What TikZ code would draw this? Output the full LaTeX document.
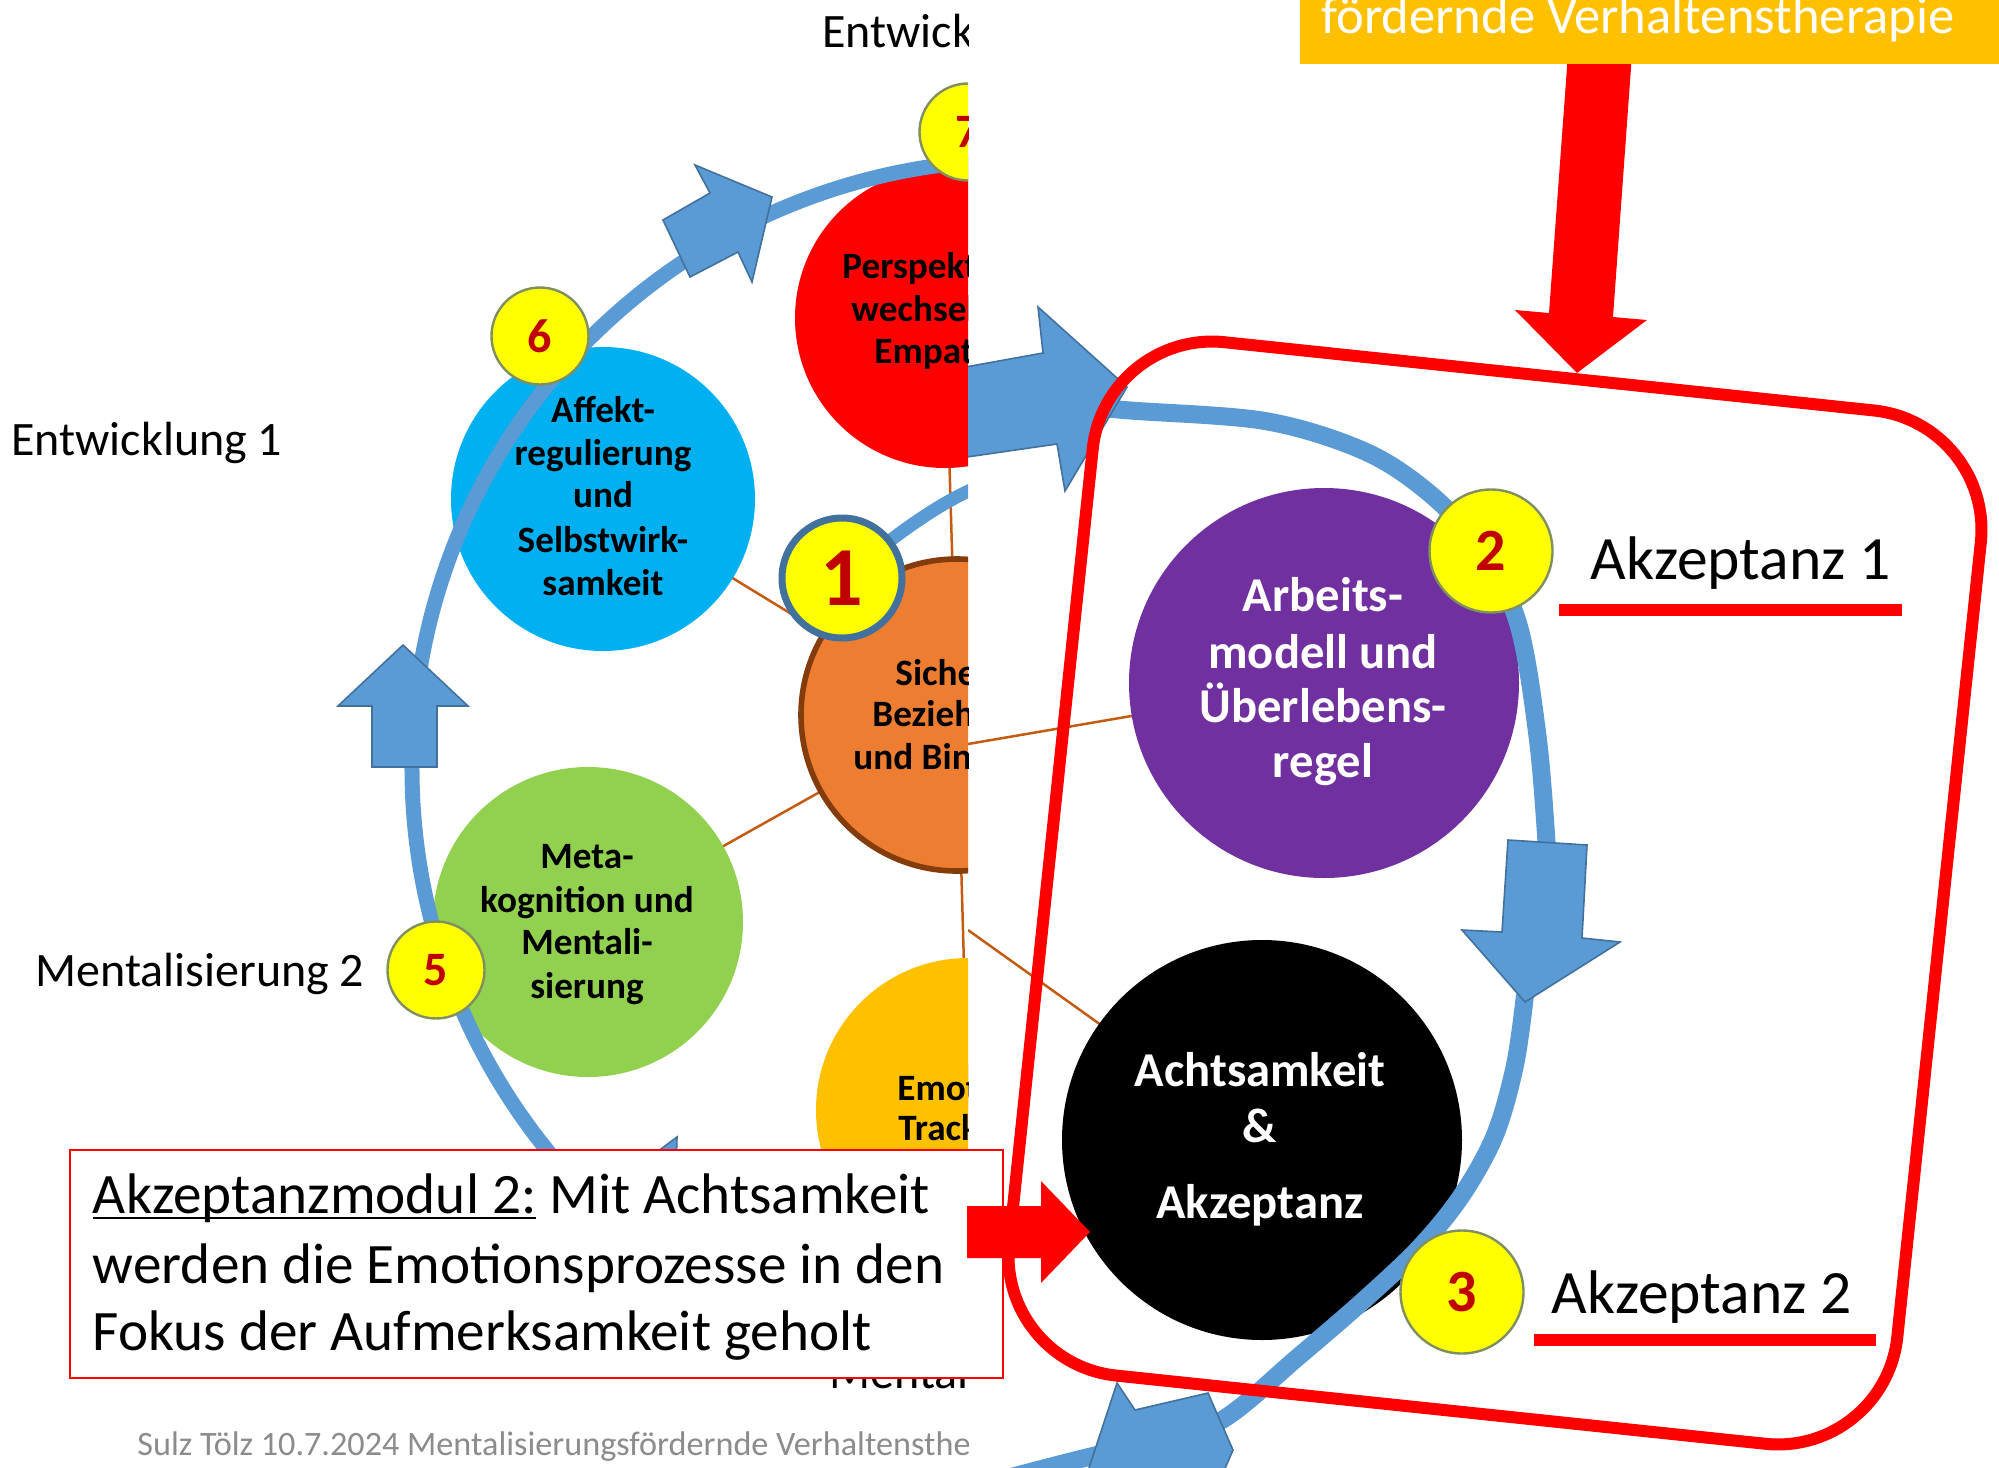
\documentclass[tikz,border=0pt]{standalone}
\usepackage{fontspec}
\setmainfont{Carlito}
\usetikzlibrary{calc}

\definecolor{arcblue}{HTML}{5B9BD5}
\definecolor{arcedge}{HTML}{41719C}
\definecolor{badgeyel}{HTML}{FFFF00}
\definecolor{digitred}{HTML}{C00000}
\definecolor{badgeedge}{HTML}{7F8F5F}
\definecolor{cyanfill}{HTML}{00B0F0}
\definecolor{greenfill}{HTML}{92D050}
\definecolor{orangefill}{HTML}{ED7D31}
\definecolor{orangeedge}{HTML}{843C0C}
\definecolor{goldfill}{HTML}{FFC000}
\definecolor{purplefill}{HTML}{7030A0}
\definecolor{linkbrown}{HTML}{C55A11}
\definecolor{footgray}{HTML}{8C8C8C}

% underline that sits just below the baseline
\newcommand\lowul[1]{\setbox0\hbox{#1}\rlap{\rule[-2.9pt]{\wd0}{1.25pt}}\box0\relax}

\tikzset{
  txt/.style={inner sep=0pt, anchor=base},
  lbl/.style={txt, anchor=base west, font=\fontsize{24}{28}\selectfont},
  circtxt/.style={txt, font=\bfseries\fontsize{18.6}{21}\selectfont},
  circtxtw/.style={circtxt, anchor=base west},
  bigtxt/.style={txt, font=\bfseries\fontsize{24.3}{28}\selectfont, text=white},
  disc/.style={circle, inner sep=0pt},
  badge/.style={circle, inner sep=0pt, fill=badgeyel, draw=badgeedge, line width=1.2pt,
    text=digitred, font=\bfseries\fontsize{24}{24}\selectfont},
  link/.style={draw=linkbrown, line width=1.25pt},
  cyc/.style={draw=arcblue, line width=7.5pt},
  blockarrow/.style={fill=arcblue, draw=arcedge, line width=0.8pt, line join=miter},
  redarrow/.style={fill=red},
  captxt/.style={txt, anchor=base west, font=\fontsize{28.6}{34}\selectfont},
}

\begin{document}
\begin{tikzpicture}[x=0.5pt, y=-0.5pt]
\clip (0,0) rectangle (1999,1468);
\fill[white] (0,0) rectangle (1999,1468);

% ---------------- left panel: development cycle ----------------
\begin{scope}
\clip (0,0) rectangle (968,1468);
\coordinate (c-persp) at (945,318);
\coordinate (c-aff) at (603,499);
\coordinate (c-meta) at (588,922);
\coordinate (c-emo) at (968,1110);
\coordinate (c-bind) at (957,715);

\draw[link] (c-bind) -- (c-persp);
\draw[link] (c-bind) -- (c-aff);
\draw[link] (c-bind) -- (c-meta);
\draw[link] (c-bind) -- (c-emo);

\node[disc, fill=red, minimum size=150pt] (persp) at (c-persp) {};
\node[disc, fill=cyanfill, minimum size=152pt] (aff) at (c-aff) {};
\node[disc, fill=greenfill, minimum size=155pt] (meta) at (c-meta) {};
\node[disc, fill=goldfill, minimum size=152pt] (emo) at (c-emo) {};
\node[disc, fill=orangefill, draw=orangeedge, line width=2.8pt, minimum size=156pt] (bind) at (c-bind) {};

% outer cycle and the spoke leaving badge 1
\draw[cyc] (1020,768) ++(140:608) arc[start angle=140, end angle=276, radius=608];
\coordinate (c-b1) at (842,578);
\draw[cyc, line width=6.5pt] (c-b1) .. controls (890,540) and (930,508) .. (975,488);

% block arrows on the cycle
\draw[blockarrow] (663,220) -- (710,193) -- (695,165) -- (772,197) -- (752,282) -- (738,252) -- (690,277) -- cycle;
\draw[blockarrow] (403,645) -- (468,706) -- (437,706) -- (437,767) -- (372,767) -- (372,706) -- (338,706) -- cycle;
\draw[blockarrow] (630,1172) -- (677,1137) -- (676,1172) -- cycle;

% numbered badges
\node[badge, minimum size=48.5pt] (b7) at (968,132) {7};
\node[badge, minimum size=48.5pt] (b6) at (540,336) {6};
\node[badge, minimum size=48.5pt] (b5) at (436,970) {5};
\node[badge, draw=arcedge, line width=3.5pt, minimum size=60pt,
      font=\bfseries\fontsize{42}{42}\selectfont] (b1) at (c-b1) {1};

% circle captions
\node[circtxtw] (p1) at (842,278) {Perspektiv-};
\node[circtxtw] (p2) at (851,321) {wechsel};
\node[circtxtw] (p3) at (874,363) {Empathie};

\node[circtxt] (a1) at (603,422) {Affekt-};
\node[circtxt] (a2) at (603,465) {regulierung};
\node[circtxt] (a3) at (603,507) {und};
\node[circtxt] (a4) at (603,552) {Selbstwirk-};
\node[circtxt] (a5) at (603,595) {samkeit};

\node[circtxtw] (s1) at (895,685) {Sichere};
\node[circtxtw] (s2) at (872,726) {Beziehung};
\node[circtxtw] (s3) at (853,769) {und Bindung};

\node[circtxt] (m1) at (587,868) {Meta-};
\node[circtxt] (m2) at (587,912) {kognition und};
\node[circtxt] (m3) at (587,954) {Mentali-};
\node[circtxt] (m4) at (587,998) {sierung};

\node[circtxtw] (e1) at (897,1100) {Emotion};
\node[circtxtw] (e2) at (898,1140) {Tracking};

% stage labels
\node[lbl] (ent7) at (822,47) {Entwicklung};
\node[lbl] (ent1) at (11,455) {Entwicklung 1};
\node[lbl] (men2) at (35,986) {Mentalisierung 2};
\node[lbl] (men1) at (829,1388) {Mentalisierung};

\node[txt, anchor=base west, text=footgray, font=\fontsize{17.1}{20}\selectfont] (foot)
  at (137,1455) {Sulz Tölz 10.7.2024 Mentalisierungsfördernde Verhaltenstherapie};
\end{scope}

% ---------------- right panel: acceptance modules ----------------
\begin{scope}
\clip (968,0) rectangle (1999,1468);
\coordinate (c-arb) at (1324,683);
\coordinate (c-acht) at (1262,1140);
\coordinate (lk1) at (968,744);
\coordinate (lk2) at (968,930);
\draw[link] (lk1) -- (c-arb);
\draw[link] (lk2) -- (c-acht);

\node[disc, fill=purplefill, minimum size=195pt] (arb) at (c-arb) {};
\node[disc, fill=black, minimum size=200pt] (acht) at (c-acht) {};

\draw[cyc, line width=9pt] plot[smooth, tension=0.55] coordinates
  {(1050,402) (1124,410) (1265,421) (1364,451) (1429,493) (1480,548) (1518,623) (1538,740) (1547,850)};
\draw[cyc, line width=9pt] plot[smooth, tension=0.55] coordinates
  {(1525,995) (1515,1065) (1495,1135) (1462,1195) (1420,1247) (1364,1300) (1298,1357) (1222,1420) (1150,1445) (1097,1455) (1000,1480) (960,1492)};

\draw[blockarrow] (960,368) -- (1043,353) -- (1038,307) -- (1127,387) -- (1065,491) -- (1057,444) -- (960,458) -- cycle;
\draw[blockarrow] (1508,840) -- (1587,845) -- (1582,938) -- (1620,942) -- (1525,1002) -- (1462,930) -- (1502,932) -- cycle;
\draw[blockarrow] (1208,1393) -- (1135,1410) -- (1117,1383) -- (1085,1480) -- (1220,1480) -- (1233,1450) -- cycle;

\node[badge, minimum size=61.5pt, font=\bfseries\fontsize{30}{30}\selectfont] (b2) at (1491,551) {2};
\node[badge, minimum size=61.5pt, font=\bfseries\fontsize{30}{30}\selectfont] (b3) at (1462,1292) {3};

\node[bigtxt] (r1) at (1323,611) {Arbeits-};
\node[bigtxt] (r2) at (1323,668) {modell und};
\node[bigtxt] (r3) at (1323,722) {Überlebens-};
\node[bigtxt] (r4) at (1323,777) {regel};

\node[bigtxt] (k1) at (1260,1086) {Achtsamkeit};
\node[bigtxt] (k2) at (1260,1142) {\&};
\node[bigtxt] (k3) at (1260,1218) {Akzeptanz};

\node[txt, anchor=base west, font=\fontsize{30.8}{34}\selectfont] (akz1) at (1590,579) {Akzeptanz 1};
\node[txt, anchor=base west, font=\fontsize{30.8}{34}\selectfont] (akz2) at (1551,1313) {Akzeptanz 2};
\draw[red, line width=6pt] (1559,610) -- (1902,610);
\draw[red, line width=6pt] (1534,1340) -- (1876,1340);

% frame around the acceptance modules
\node[draw=red, line width=6pt, rounded corners=60pt, inner sep=0pt,
      minimum width=446.5pt, minimum height=519.5pt, rotate=-6] (frame) at (1495,893) {};

% arrow from the title bar onto the frame
\fill[redarrow] (1569,40) -- (1549,313) -- (1515,310) -- (1577,373) -- (1647,320) -- (1613,317) -- (1633,40) -- cycle;

\fill[goldfill] (1300,-10) rectangle (2010,64);
\node[txt, anchor=base west, text=white, font=\fontsize{26.3}{30}\selectfont] (title)
  at (1321,33) {fördernde Verhaltenstherapie};
\end{scope}

% ---------------- caption box and pointer ----------------
\node[draw=red, fill=white, line width=1.25pt, inner sep=0pt,
      minimum width=466.5pt, minimum height=114pt] (capbox) at (536.5,1264) {};
\node[captxt] (cap1) at (92.5,1213.5) {\lowul{Akzeptanzmodul 2:} Mit Achtsamkeit};
\node[captxt] (cap2) at (92.5,1283) {werden die Emotionsprozesse in den};
\node[captxt] (cap3) at (92.5,1350.5) {Fokus der Aufmerksamkeit geholt};

\fill[redarrow] (967,1206) -- (1041,1206) -- (1041,1181) -- (1090,1232) -- (1041,1283) -- (1041,1258) -- (967,1258) -- cycle;
\end{tikzpicture}
\end{document}
